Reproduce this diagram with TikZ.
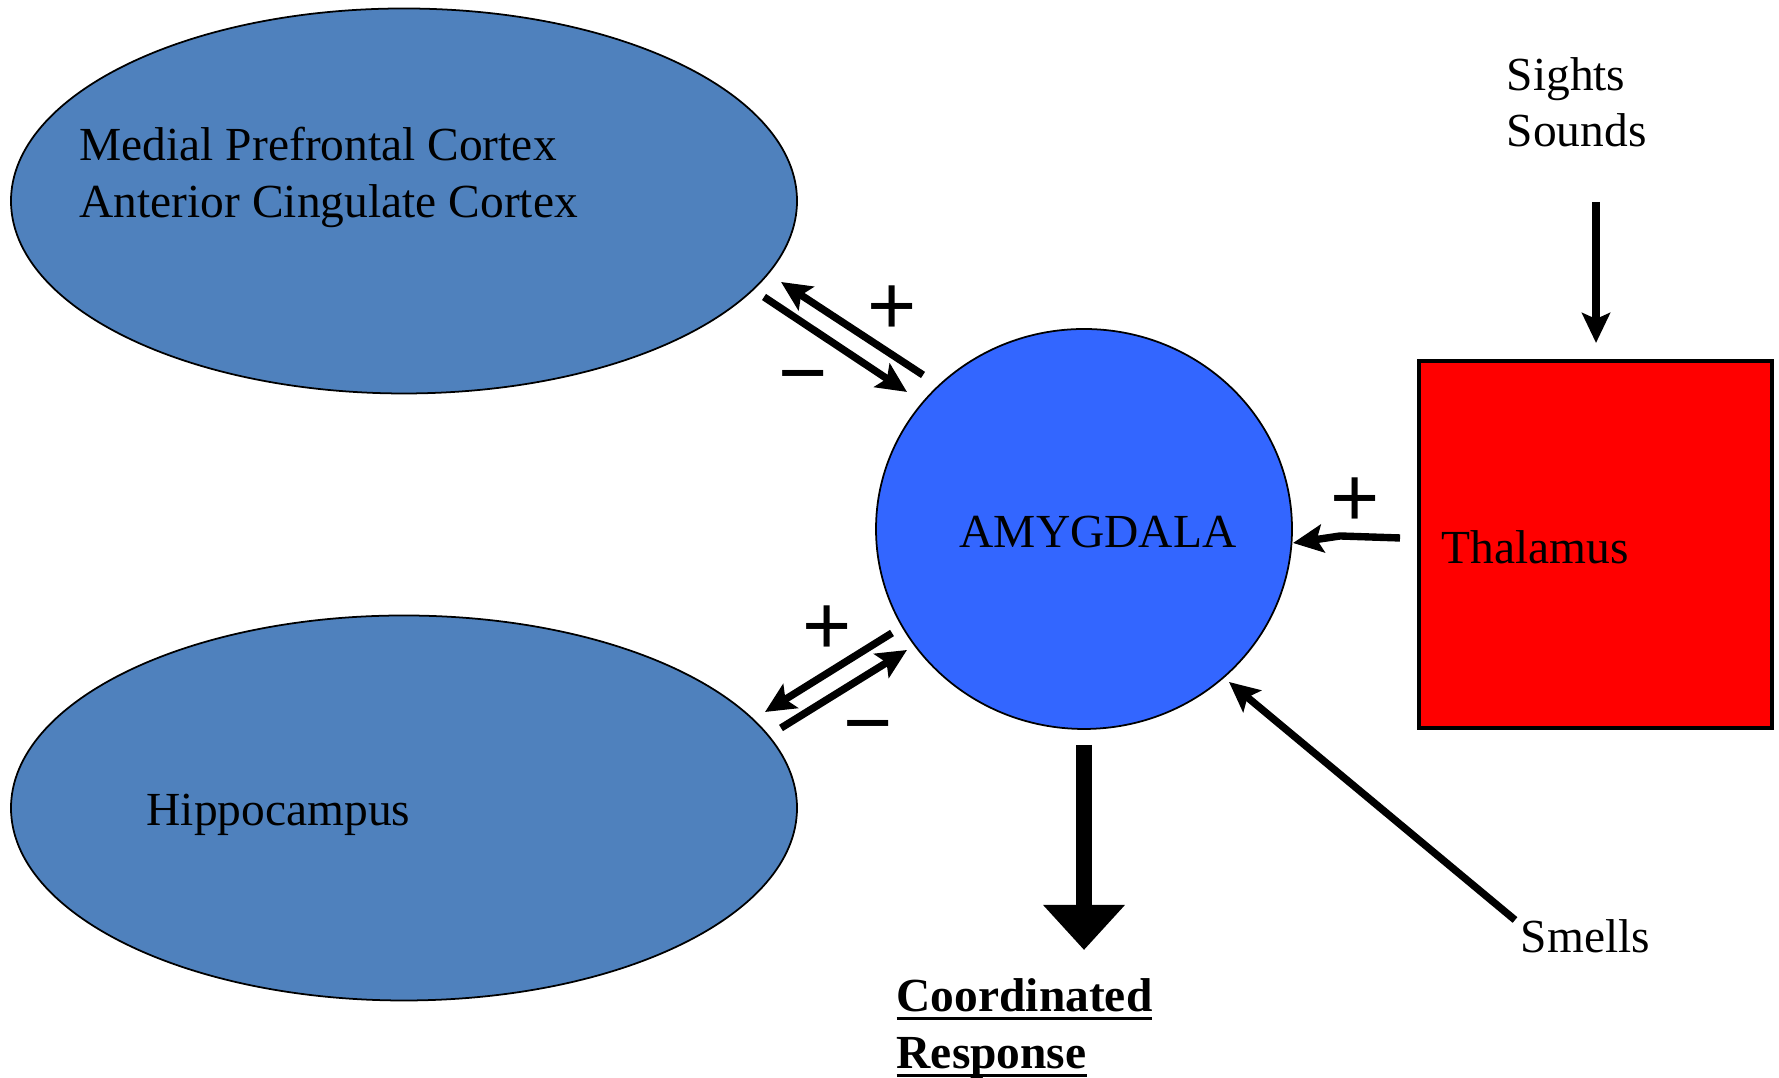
\documentclass[tikz,border=0pt]{standalone}
\usepackage{fontspec}
\setmainfont{Liberation Serif}
\newfontfamily\signfont{Liberation Sans}
\usetikzlibrary{shapes.geometric, arrows.meta, positioning}

\definecolor{regionblue}{HTML}{4F81BD}
\definecolor{amygblue}{HTML}{3366FF}

\newsavebox\ulbox
\newcommand\ulword[1]{\sbox\ulbox{#1}\rlap{\rule[-2.2pt]{\wd\ulbox}{0.9pt}}\usebox\ulbox}

\tikzset{
  region/.style={ellipse, draw=black, line width=0.5pt, fill=regionblue,
    minimum width=7.86cm, minimum height=3.85cm, inner sep=0pt},
  lbl/.style={anchor=base west, inner sep=0pt, font=\fontsize{13.5}{16}\selectfont},
  sign/.style={inner sep=0pt, text height=0.6em, text depth=0pt,
    font=\signfont\fontsize{24}{26}\selectfont},
  link/.style={line width=2.1pt, -{Stealth[length=3mm, width=2.8mm, inset=0.6mm]}},
}

\begin{document}
\begin{tikzpicture}
\useasboundingbox (0,0) rectangle (17.79,10.78);

% brain regions
\node[region] (mpfc) at (4.04,8.77) {};
\node[region] (hippo) at (4.04,2.70) {};
\node[ellipse, draw=black, line width=0.5pt, fill=amygblue, minimum width=4.16cm,
  minimum height=4.0cm, inner sep=0pt] (amyg) at (10.84,5.49) {};
\node[rectangle, draw=black, line width=1pt, fill=red, minimum width=3.53cm,
  minimum height=3.67cm] (thal) at (15.955,5.335) {};

% labels
\node[lbl] (mpfcText) at (0.79,9.17) {Medial Prefrontal Cortex};
\node[lbl] (accText) at (0.79,8.60) {Anterior Cingulate Cortex};
\node[lbl] (hippoText) at (1.46,2.52) {Hippocampus};
\node[lbl] (amygText) at (9.59,5.30) {AMYGDALA};
\node[lbl] (thalText) at (14.41,5.14) {Thalamus};
\node[lbl] (sights) at (15.06,9.87) {Sights};
\node[lbl] (sounds) at (15.06,9.31) {Sounds};
\node[lbl] (smells) at (15.20,1.25) {Smells};
\node[lbl, font=\fontsize{13.5}{16}\selectfont\bfseries] (coord) at (8.96,0.66) {\ulword{Coordinated}};
\node[lbl, font=\fontsize{13.5}{16}\selectfont\bfseries] (resp) at (8.96,0.09) {\ulword{Response}};

% arrow ends
\coordinate (upOut) at (9.23,7.03);
\coordinate (upIn) at (7.81,7.96);
\coordinate (downOut) at (7.64,7.81);
\coordinate (downIn) at (9.07,6.86);
\coordinate (hipOut) at (8.92,4.45);
\coordinate (hipIn) at (7.65,3.66);
\coordinate (hipBack) at (7.81,3.50);
\coordinate (hipBackIn) at (9.07,4.28);
\coordinate (thalOut) at (14.00,5.40);
\coordinate (thalBend) at (13.40,5.42);
\coordinate (thalIn) at (12.93,5.35);
\coordinate (senseTop) at (15.96,8.76);
\coordinate (senseIn) at (15.96,7.35);
\coordinate (smellOut) at (15.15,1.58);
\coordinate (smellIn) at (12.29,3.96);
\coordinate (respTop) at (10.84,3.33);
\coordinate (respTip) at (10.84,1.28);

\draw[link] (upOut) -- (upIn);
\draw[link] (downOut) -- (downIn);
\draw[link] (hipOut) -- (hipIn);
\draw[link] (hipBack) -- (hipBackIn);
\draw[link] (thalOut) -- (thalBend) -- (thalIn);
\draw[link] (senseTop) -- (senseIn);
\draw[link] (smellOut) -- (smellIn);
\draw[line width=4.5pt, -{Triangle[length=4.5mm, width=7.9mm]}] (respTop) -- (respTip);

% signs
\node[sign] (plusTop) at (8.92,7.54) {+};
\node[sign] (minusTop) at (8.03,6.87) {−};
\node[sign] (plusBot) at (8.27,4.34) {+};
\node[sign] (minusBot) at (8.68,3.37) {−};
\node[sign] (plusThal) at (13.55,5.62) {+};
\end{tikzpicture}
\end{document}
